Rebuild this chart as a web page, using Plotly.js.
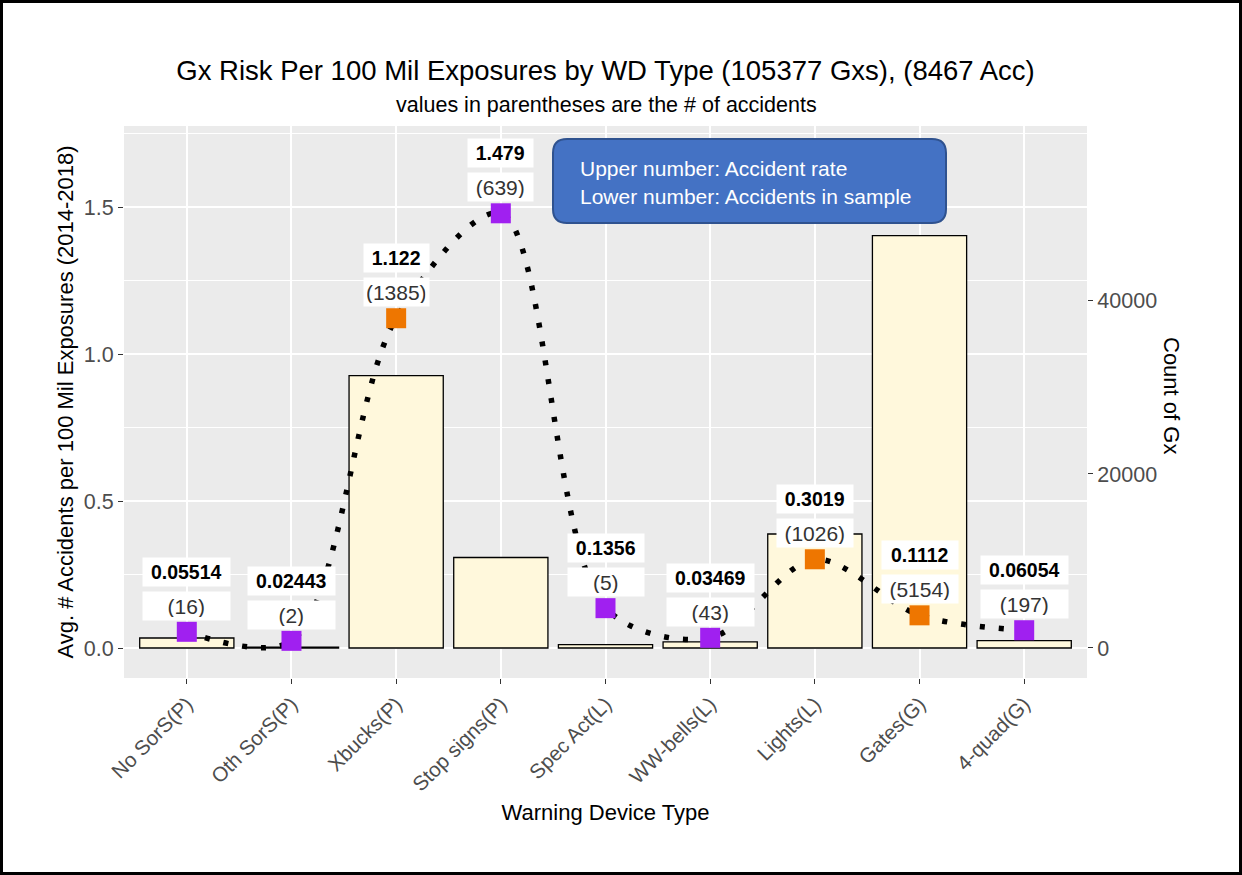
<!DOCTYPE html>
<html>
<head>
<meta charset="utf-8">
<script src="https://cdn.plot.ly/plotly-3.0.1.min.js"></script>
<style>
body { margin: 0; background: #fff; }
#chart { width: 1242px; height: 875px; }
</style>
</head>
<body>
<div id="chart"></div>
<script>
// warning device types along the x axis
var deviceTypes = ["No SorS(P)", "Oth SorS(P)", "Xbucks(P)", "Stop signs(P)", "Spec Act(L)",
    "WW-bells(L)", "Lights(L)", "Gates(G)", "4-quad(G)"];
// accident rate per 100 mil exposures (left axis)
var accidentRate = [0.05514, 0.02443, 1.122, 1.479, 0.1356, 0.03469, 0.3019, 0.1112, 0.06054];
var rateLabels = ["0.05514", "0.02443", "1.122", "1.479", "0.1356", "0.03469", "0.3019", "0.1112", "0.06054"];
// accidents in sample
var accidentCount = [16, 2, 1385, 639, 5, 43, 1026, 5154, 197];
// count of crossings (right axis)
var gxCount = [1150, 100, 31300, 10400, 390, 700, 13100, 47400, 850];
var pointColors = ["#A020F0", "#A020F0", "#EE7600", "#A020F0", "#A020F0", "#A020F0", "#EE7600", "#EE7600", "#A020F0"];

var font = "Liberation Sans, Arial, sans-serif";

// plot area in pixels, used to place the extra boxes
var L = 124, T = 126, W = 963, H = 552;
function px(x) { return (x - L) / W; }
function py(y) { return (T + H - y) / H; }

function roundRect(x0, y0, x1, y1, r) {
    var p = "M" + px(x0 + r) + "," + py(y0) +
        " L" + px(x1 - r) + "," + py(y0) +
        " Q" + px(x1) + "," + py(y0) + " " + px(x1) + "," + py(y0 + r) +
        " L" + px(x1) + "," + py(y1 - r) +
        " Q" + px(x1) + "," + py(y1) + " " + px(x1 - r) + "," + py(y1) +
        " L" + px(x0 + r) + "," + py(y1) +
        " Q" + px(x0) + "," + py(y1) + " " + px(x0) + "," + py(y1 - r) +
        " L" + px(x0) + "," + py(y0 + r) +
        " Q" + px(x0) + "," + py(y0) + " " + px(x0 + r) + "," + py(y0) + " Z";
    return p;
}

function labelWidth(s) {
    var digits = s.replace(/[^0-9]/g, "").length;
    var dots = s.length - digits;
    return digits * 11 + dots * 5.5 + 9;
}

var barTrace = {
    x: deviceTypes,
    y: gxCount,
    type: "bar",
    yaxis: "y",
    marker: {color: "#FFF8DC", line: {color: "#000", width: 1.3}},
    hoverinfo: "x+y"
};

var lineTrace = {
    x: deviceTypes,
    y: accidentRate,
    yaxis: "y2",
    type: "scatter",
    mode: "lines",
    line: {color: "#000", width: 5.5, dash: "5px,14px", shape: "spline", smoothing: 0.9},
    hoverinfo: "skip"
};

var pointTrace = {
    x: deviceTypes,
    y: accidentRate,
    yaxis: "y2",
    type: "scatter",
    mode: "markers",
    marker: {symbol: "square", size: 20, color: pointColors}
};

var annotations = [];
deviceTypes.forEach(function (d, i) {
    var w = labelWidth(rateLabels[i]);
    annotations.push({
        x: d, y: accidentRate[i], xref: "x", yref: "y2", showarrow: false,
        text: "<b>" + rateLabels[i] + "</b>", yshift: 60, width: w, height: 22,
        bgcolor: "#fff", borderpad: 3,
        font: {family: font, size: 19.5, color: "#000"}
    });
    annotations.push({
        x: d, y: accidentRate[i], xref: "x", yref: "y2", showarrow: false,
        text: "(" + accidentCount[i] + ")", yshift: 26, width: w, height: 22,
        bgcolor: "#fff", borderpad: 3,
        font: {family: font, size: 21, color: "#333"}
    });
});

annotations.push({
    xref: "paper", yref: "paper", x: px(606), y: py(105), xanchor: "center", yanchor: "middle",
    showarrow: false, text: "values in parentheses are the # of accidents",
    font: {family: font, size: 21.5, color: "#000"}
});
annotations.push({
    xref: "paper", yref: "paper", x: px(1172), y: py(395), xanchor: "center", yanchor: "middle",
    showarrow: false, text: "Count of Gx", textangle: 90,
    font: {family: font, size: 22, color: "#000"}
});
annotations.push({
    xref: "paper", yref: "paper", x: px(578), y: py(168), xanchor: "left", yanchor: "middle",
    showarrow: false, text: "Upper number: Accident rate",
    font: {family: font, size: 21, color: "#fff"}
});
annotations.push({
    xref: "paper", yref: "paper", x: px(578), y: py(196), xanchor: "left", yanchor: "middle",
    showarrow: false, text: "Lower number: Accidents in sample",
    font: {family: font, size: 21, color: "#fff"}
});

var shapes = [
    {type: "path", xref: "paper", yref: "paper", path: roundRect(553, 139, 946, 223, 14),
        fillcolor: "#4472C4", line: {color: "#2F528F", width: 2}},
    {type: "rect", xref: "paper", yref: "paper", x0: px(1.5), x1: px(1240.5), y0: py(873.5), y1: py(1.5),
        line: {color: "#000", width: 3}}
];

var layout = {
    width: 1242,
    height: 875,
    autosize: false,
    margin: {l: L, r: 1242 - L - W, t: T, b: 875 - T - H},
    paper_bgcolor: "#fff",
    plot_bgcolor: "#EBEBEB",
    showlegend: false,
    bargap: 0.1,
    font: {family: font, color: "#000"},
    title: {
        text: "Gx Risk Per 100 Mil Exposures by WD Type (105377 Gxs), (8467 Acc)",
        font: {family: font, size: 27.5, color: "#000"},
        x: 0.5, xref: "paper", xanchor: "center",
        y: 1 - 70 / 875, yref: "container", yanchor: "middle"
    },
    xaxis: {
        type: "category",
        range: [-0.6, 8.6],
        showgrid: true, gridcolor: "#fff", gridwidth: 1.6,
        zeroline: false, showline: false,
        ticks: "outside", ticklen: 5, tickcolor: "#333", tickwidth: 1.2,
        tickangle: -45,
        tickfont: {family: font, size: 20.5, color: "#4D4D4D"},
        title: {text: "Warning Device Type", font: {family: font, size: 22, color: "#000"}, standoff: 10}
    },
    yaxis: {
        side: "right",
        range: [-3450, 60000],
        tickvals: [0, 20000, 40000],
        tickformat: "d",
        showgrid: false, zeroline: false, showline: false,
        ticks: "outside", ticklen: 5, tickcolor: "#333", tickwidth: 1.2,
        tickfont: {family: font, size: 21.5, color: "#4D4D4D"}
    },
    yaxis2: {
        side: "left",
        overlaying: "y",
        range: [-0.102, 1.776],
        tickvals: [0, 0.5, 1, 1.5],
        tickformat: ".1f",
        showgrid: true, gridcolor: "#fff", gridwidth: 1.6,
        minor: {dtick: 0.25, showgrid: true, gridcolor: "#fff", gridwidth: 0.8},
        zeroline: false, showline: false,
        ticks: "outside", ticklen: 5, tickcolor: "#333", tickwidth: 1.2,
        tickfont: {family: font, size: 21.5, color: "#4D4D4D"},
        title: {text: "Avg. # Accidents per 100 Mil Exposures (2014-2018)",
            font: {family: font, size: 22, color: "#000"}, standoff: 4}
    },
    annotations: annotations,
    shapes: shapes
};

Plotly.newPlot("chart", [barTrace, lineTrace, pointTrace], layout, {displayModeBar: false});
</script>
</body>
</html>
